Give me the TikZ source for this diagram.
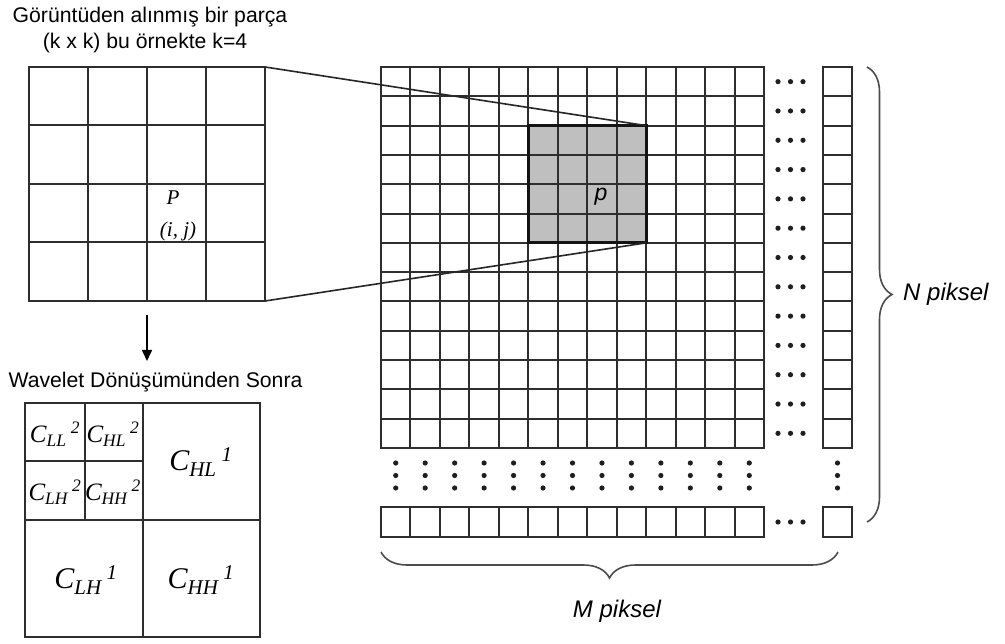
\documentclass[tikz,border=0pt]{standalone}
\usepackage{fontspec}
\setmainfont{Liberation Sans}
\newfontfamily\tms{Liberation Serif}
\usetikzlibrary{arrows.meta,decorations.pathreplacing}

% wavelet coefficient label: C with subscript band and superscript level
\newcommand\coef[2]{{\tms\itshape C\textsubscript{#1}\,\textsuperscript{#2}}}

\begin{document}
\begin{tikzpicture}[x=1pt,y=-1pt,
  gl/.style={line width=2pt, draw=black!82, line cap=rect},
  heavy/.style={line width=2.8pt, draw=black!92},
  zoomline/.style={line width=1.6pt, draw=black!85},
  lbl/.style={inner sep=0pt, font=\fontsize{21.2}{24}\selectfont},
  axlbl/.style={inner sep=0pt, font=\itshape\fontsize{24}{26}\selectfont},
  frame/.style={inner sep=0pt, outer sep=0pt, anchor=north west},
  smallc/.style={inner sep=0pt, font=\fontsize{25}{28}\selectfont},
  bigc/.style={inner sep=0pt, font=\fontsize{30}{32}\selectfont},
  bracestyle/.style={decorate, line width=1.6pt, draw=black!70},
  dotc/.style={fill=black!88},
  arr/.style={line width=1.6pt, draw=black, -{Triangle[length=11pt,width=10pt]}}
]
\useasboundingbox (0,0) rectangle (1005,644);
\fill[white] (0,0) rectangle (1005,644);

% ---- heading over the patch
\node[lbl] (t1) at (150,17) {Görüntüden alınmış bir parça};
\node[lbl] (t2) at (145,43) {(k x k) bu örnekte k=4};

% ---- the k x k patch
\node[frame, minimum width=236pt, minimum height=234pt] (patch) at (29,67) {};
\foreach \i in {0,...,4} {
  \draw[gl] (29+\i*59,67) -- (29+\i*59,301);
  \draw[gl] (29,67+\i*58.5) -- (265,67+\i*58.5);
}
\node[inner sep=0pt, font=\tms\itshape\fontsize{21}{22}\selectfont] (pp) at (173,198) {P};
\node[inner sep=0pt, font=\tms\itshape\fontsize{21}{22}\selectfont] (pij) at (178,231) {(i, j)};

% ---- the image: 13 x 13 pixel grid with the shaded patch
\node[frame, fill=black!25, minimum width=117.85pt, minimum height=117.23pt] (block) at (528.31,125.62) {};
\foreach \i in {0,...,13} {
  \draw[gl] (381+\i*29.4615,67) -- (381+\i*29.4615,448);
  \draw[gl] (381,67+\i*29.3077) -- (764,67+\i*29.3077);
}
\draw[heavy] (block.north west) rectangle (block.south east);
\node[inner sep=0pt, font=\itshape\fontsize{23}{24}\selectfont] (plbl) at (601,197) {p};

% last column
\foreach \j in {0,...,13}
  \draw[gl] (823,67+\j*29.3077) -- (852,67+\j*29.3077);
\draw[gl] (823,67) -- (823,448);
\draw[gl] (852,67) -- (852,448);

% horizontal ellipsis on each row
\foreach \j in {0,...,12}
  \foreach \x in {778,790.5,803}
    \fill[dotc] (\x,67+\j*29.3077+14.65) circle (2.6pt);

% vertical ellipsis under each column
\foreach \i in {0,...,12}
  \foreach \y in {463,475.5,488}
    \fill[dotc] (381+\i*29.4615+14.73,\y) circle (2.6pt);
\foreach \y in {463,475.5,488}
  \fill[dotc] (837.5,\y) circle (2.6pt);

% last row
\foreach \i in {0,...,13}
  \draw[gl] (381+\i*29.4615,507) -- (381+\i*29.4615,537);
\draw[gl] (381,507) -- (764,507);
\draw[gl] (381,537) -- (764,537);
\foreach \x in {778,790.5,803}
  \fill[dotc] (\x,522) circle (2.6pt);
\node[frame, draw=black!82, line width=2pt, minimum width=29pt, minimum height=30pt] (corner) at (823,507) {};

% ---- patch magnified from the image
\draw[zoomline] (patch.north east) -- (block.north east);
\draw[zoomline] (patch.south east) -- (block.south east);

% ---- size braces
\coordinate (nb1) at (867,67);
\coordinate (nb2) at (867,522);
\draw[bracestyle, decoration={brace, amplitude=25pt}] (nb1) -- (nb2);
\node[axlbl, anchor=west] (nlab) at (903,294) {N piksel};
\coordinate (mb1) at (838,552);
\coordinate (mb2) at (381,552);
\draw[bracestyle, decoration={brace, amplitude=26pt}] (mb1) -- (mb2);
\node[axlbl] (mlab) at (617,611) {M piksel};

% ---- after the wavelet transform
\node[lbl] (wtitle) at (155.5,382) {Wavelet Dönüşümünden Sonra};
\coordinate (atip) at (147,361);
\draw[arr, shorten <=14pt] (patch.south) -- (atip);

\node[frame, minimum width=235pt, minimum height=234pt] (wbox) at (25,403) {};
\draw[gl] (wbox.north west) rectangle (wbox.south east);
\draw[gl] (143,403) -- (143,637);
\draw[gl] (25,520) -- (260,520);
\draw[gl] (85,403) -- (85,520);
\draw[gl] (25,461) -- (143,461);

\node[smallc] (cll2) at (55,434) {\coef{LL}{2}};
\node[smallc] (chl2) at (113,434) {\coef{HL}{2}};
\node[smallc] (clh2) at (55,492) {\coef{LH}{2}};
\node[smallc] (chh2) at (113,492) {\coef{HH}{2}};
\node[bigc] (chl1) at (201,462) {\coef{HL}{1}};
\node[bigc] (clh1) at (86,580) {\coef{LH}{1}};
\node[bigc] (chh1) at (201,580) {\coef{HH}{1}};
\end{tikzpicture}
\end{document}
